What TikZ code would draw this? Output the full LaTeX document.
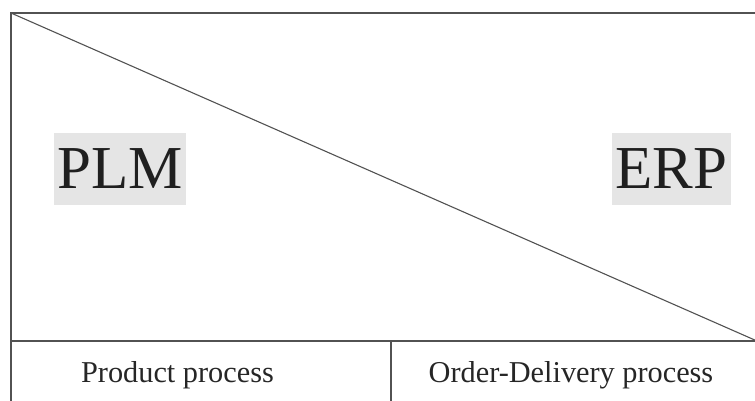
\documentclass[tikz,border=0pt]{standalone}
\usepackage{fontspec}
\setmainfont{Liberation Serif}
\tikzset{
  frame/.style={draw=black!68, line width=1.3pt},
  bigtag/.style={fill=black!10, inner sep=0pt, text=black!88,
    font=\fontsize{61}{72}\selectfont, minimum height=72pt},
  lowtag/.style={inner sep=0pt, text=black!85, anchor=base,
    font=\fontsize{30.3}{36}\selectfont}
}
\begin{document}
\begin{tikzpicture}[x=1pt,y=-1pt]
  \useasboundingbox (0,0) rectangle (755,400);
  \clip (0,0) rectangle (755,400);
  % corner points of the frame and the split
  \coordinate (tl) at (11,13);
  \coordinate (tr) at (770,13);
  \coordinate (ml) at (11,341);
  \coordinate (mr) at (770,341);
  \coordinate (bl) at (11,410);
  \coordinate (br) at (770,410);
  \coordinate (dEnd) at (757,341);
  \coordinate (vTop) at (391,341);
  \coordinate (vBot) at (391,410);
  % outer frame, bottom band and divider
  \draw[frame] (bl) -- (tl) -- (tr);
  \draw[frame] (ml) -- (mr);
  \draw[frame] (vTop) -- (vBot);
  \draw[frame, line width=1.1pt] (tl) -- (dEnd);
  % system labels
  \node[bigtag, minimum width=132pt] (plm) at (120,169) {PLM};
  \node[bigtag, minimum width=119pt] (erp) at (671.5,169) {ERP};
  % process labels
  \node[lowtag] (prod) at (177.5,382) {Product process};
  \node[lowtag] (ordr) at (571,382) {Order-Delivery process};
\end{tikzpicture}
\end{document}
